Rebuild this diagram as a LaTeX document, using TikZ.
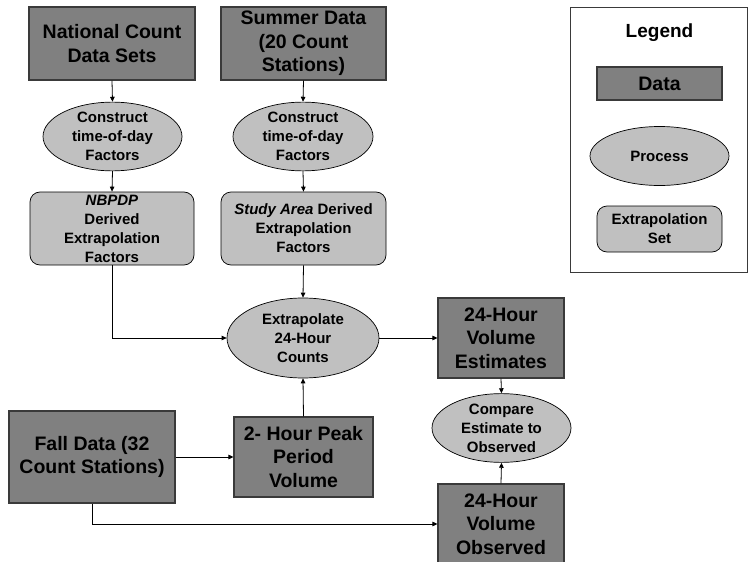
\documentclass[tikz,border=0pt]{standalone}
\usepackage{fontspec}
\setmainfont{Liberation Sans}
\usetikzlibrary{shapes.geometric,arrows.meta}
\definecolor{datagray}{HTML}{808080}
\definecolor{procgray}{HTML}{C0C0C0}
\definecolor{edgegray}{HTML}{3A3A3A}
\begin{document}
\begin{tikzpicture}[x=1pt,y=-1pt,
  bigtxt/.style={font=\fontsize{19.5}{23.5}\selectfont\bfseries},
  smalltxt/.style={font=\fontsize{15}{19}\selectfont\bfseries},
  databox/.style={draw=edgegray,line width=1.1pt,fill=datagray,rectangle,inner sep=0pt,align=center,bigtxt},
  procell/.style={draw=black,line width=0.7pt,fill=procgray,ellipse,inner sep=0pt,align=center,smalltxt},
  extset/.style={draw=black,line width=0.7pt,fill=procgray,rectangle,rounded corners=10pt,inner sep=0pt,align=center,smalltxt},
  arr/.style={draw=black,line width=0.8pt,-{Triangle[length=5pt,width=4.5pt]}}]
\useasboundingbox (0,0) rectangle (748,562);
\fill[white] (0,0) rectangle (748,562);

% legend
\node[draw=edgegray,line width=0.8pt,fill=white,minimum width=177pt,minimum height=265pt,inner sep=0pt] (legend) at (658.5,139.5) {};
\node[font=\fontsize{19}{23}\selectfont\bfseries] (legtitle) at (659.5,33) {Legend};
\node[databox,minimum width=125pt,minimum height=33pt] (ld) at (659.5,83.5) {Data};
\node[procell,minimum width=139pt,minimum height=59pt] (lp) at (659.5,156) {Process};
\node[extset,minimum width=125pt,minimum height=46pt] (lr) at (659.5,229) {Extrapolation\\Set};

% main nodes
\node[databox,minimum width=166pt,minimum height=73pt] (ncd) at (112,43.5) {National Count\\Data Sets};
\node[databox,minimum width=165pt,minimum height=73pt] (sum) at (303.5,43.5) {Summer Data\\(20 Count\\Stations)};
\node[procell,minimum width=139pt,minimum height=61pt] (e1) at (112.5,136.5) {Construct\\time-of-day\\Factors};
\node[procell,minimum width=140pt,minimum height=61pt] (e2) at (303,136.5) {Construct\\time-of-day\\Factors};
\node[extset,minimum width=164pt,minimum height=73pt] (r1) at (112,228.5) {\textit{NBPDP}\\Derived\\Extrapolation\\Factors};
\node[extset,minimum width=165pt,minimum height=73pt] (r2) at (303.5,228.5) {\textit{Study Area} Derived\\Extrapolation\\Factors};
\node[procell,minimum width=152pt,minimum height=80pt] (ext) at (303,338) {Extrapolate\\24-Hour\\Counts};
\node[databox,minimum width=126pt,minimum height=80pt] (est) at (501,338) {24-Hour\\Volume\\Estimates};
\node[procell,minimum width=139pt,minimum height=60pt] (cmp) at (501.5,428) {Compare\\Estimate to\\Observed};
\node[databox,minimum width=166pt,minimum height=92pt] (fall) at (92,457) {Fall Data (32\\Count Stations)};
\node[databox,minimum width=139pt,minimum height=80pt] (peak) at (303.5,457) {2- Hour Peak\\Period\\Volume};
\node[databox,minimum width=126pt,minimum height=80pt] (obs) at (501,524) {24-Hour\\Volume\\Observed};

% connectors
\draw[arr] (ncd.south) -- (e1.north);
\draw[arr] (sum.south) -- (e2.north);
\draw[arr] (e1.south) -- (r1.north);
\draw[arr] (e2.south) -- (r2.north);
\draw[arr] (r1.south) |- (ext.west);
\draw[arr] (r2.south) -- (ext.north);
\draw[arr] (ext.east) -- (est.west);
\draw[arr] (est.south) -- (cmp.north);
\draw[arr] (peak.north) -- (ext.south);
\draw[arr] (fall.east) -- (peak.west);
\draw[arr] (fall.south) |- (obs.west);
\draw[arr] (obs.north) -- (cmp.south);
\end{tikzpicture}
\end{document}
